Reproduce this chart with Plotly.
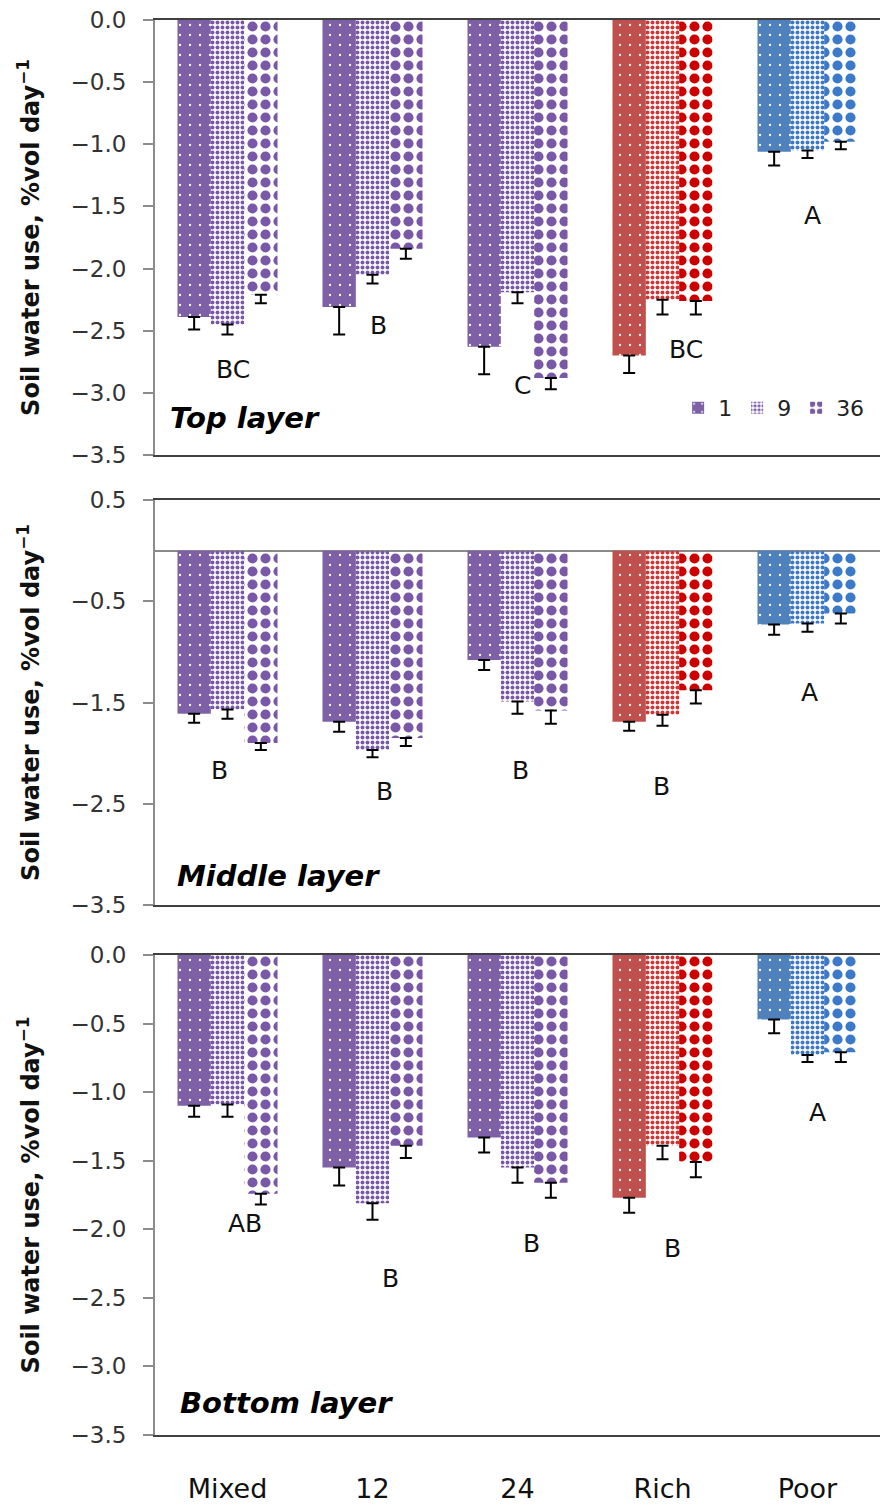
import plotly.graph_objects as go
from plotly.subplots import make_subplots

categories = ["Mixed", "12", "24", "Rich", "Poor"]
series_names = ["1", "9", "36"]

# Top layer
top_1 = [-2.39, -2.31, -2.63, -2.70, -1.06]
top_1_err = [0.10, 0.22, 0.22, 0.14, 0.11]
top_9 = [-2.45, -2.05, -2.19, -2.25, -1.05]
top_9_err = [0.08, 0.07, 0.09, 0.12, 0.06]
top_36 = [-2.21, -1.84, -2.88, -2.26, -0.98]
top_36_err = [0.07, 0.08, 0.09, 0.11, 0.06]
top_letters = ["BC", "B", "C", "BC", "A"]
top_letter_y = [-2.81, -2.46, -2.94, -2.65, -1.57]

# Middle layer
mid_1 = [-1.61, -1.69, -1.08, -1.69, -0.73]
mid_1_err = [0.09, 0.10, 0.10, 0.09, 0.10]
mid_9 = [-1.57, -1.97, -1.49, -1.62, -0.72]
mid_9_err = [0.09, 0.07, 0.12, 0.11, 0.08]
mid_36 = [-1.90, -1.85, -1.58, -1.38, -0.62]
mid_36_err = [0.07, 0.08, 0.13, 0.13, 0.10]
mid_letters = ["B", "B", "B", "B", "A"]
mid_letter_y = [-2.17, -2.38, -2.17, -2.33, -1.40]

# Bottom layer
bot_1 = [-1.10, -1.55, -1.33, -1.77, -0.47]
bot_1_err = [0.08, 0.13, 0.11, 0.11, 0.10]
bot_9 = [-1.09, -1.81, -1.55, -1.39, -0.73]
bot_9_err = [0.09, 0.12, 0.11, 0.10, 0.05]
bot_36 = [-1.74, -1.39, -1.66, -1.51, -0.71]
bot_36_err = [0.08, 0.09, 0.11, 0.11, 0.07]
bot_letters = ["AB", "B", "B", "B", "A"]
bot_letter_y = [-1.96, -2.36, -2.10, -2.14, -1.15]

layer_names = ["Top layer", "Middle layer", "Bottom layer"]

# styles
col_1 = ["#7E60A6", "#7E60A6", "#7E60A6", "#C0504D", "#4F81BD"]
col_9 = ["#7A58A8", "#7A58A8", "#7A58A8", "#D03636", "#3F79C6"]
col_36 = ["#7A58A8", "#7A58A8", "#7A58A8", "#CC0000", "#3C79C8"]

FONT = "DejaVu Sans"

fig = make_subplots(rows=3, cols=1, shared_xaxes=False, vertical_spacing=0.0)

panels = [
    (top_1, top_1_err, top_9, top_9_err, top_36, top_36_err),
    (mid_1, mid_1_err, mid_9, mid_9_err, mid_36, mid_36_err),
    (bot_1, bot_1_err, bot_9, bot_9_err, bot_36, bot_36_err),
]


def pat(kind, cols):
    if kind == 0:
        # solid colour with sparse white dots
        return dict(shape=".", bgcolor=cols, fgcolor="white", size=10, solidity=0.04,
                    fillmode="overlay", fgopacity=1)
    if kind == 1:
        # fine checker-like texture
        return dict(shape=".", fgcolor=cols, size=5, solidity=0.5,
                    fillmode="replace", fgopacity=1)
    # coarse checker-like texture
    return dict(shape=".", fgcolor=cols, size=13, solidity=0.48,
                fillmode="replace", fgopacity=1)


for r, p in enumerate(panels, start=1):
    vals = [p[0], p[2], p[4]]
    errs = [p[1], p[3], p[5]]
    cols = [col_1, col_9, col_36]
    for k in range(3):
        fig.add_trace(go.Bar(
            x=categories, y=vals[k], name=series_names[k],
            marker=dict(color=cols[k], line=dict(width=0), pattern=pat(k, cols[k])),
            error_y=dict(type="data", symmetric=False, array=[0] * 5, arrayminus=errs[k],
                         color="black", thickness=2, width=6),
            showlegend=(r == 1),
        ), row=r, col=1)

# domains (pixel based): plot area 1415 px tall, bottom margin 70
H = 1415.0
def dom(top_px, bot_px):
    return [(1435 - bot_px) / H, (1435 - top_px) / H]

ytitle = "<b>Soil water use, %vol day<sup>−1</sup></b>"
axis_common = dict(showline=True, linecolor="#8c8c8c", linewidth=2, ticks="outside",
                   ticklen=10, tickcolor="#8c8c8c", tickwidth=1.5, ticklabelstandoff=12,
                   tickfont=dict(family=FONT, size=23, color="#333"),
                   tickformat=".1f", showgrid=False, automargin=False,
                   title=dict(text=ytitle, font=dict(family=FONT, size=24, color="#111"),
                              standoff=24))

fig.update_layout(
    yaxis=dict(domain=dom(20, 455), range=[-3.5, 0], dtick=0.5, zeroline=False, **axis_common),
    yaxis2=dict(domain=dom(500, 905), range=[-3.5, 0.5], tick0=0.5, dtick=1,
                zeroline=True, zerolinecolor="#8a8a8a", zerolinewidth=2, **axis_common),
    yaxis3=dict(domain=dom(955, 1435), range=[-3.5, 0], dtick=0.5, zeroline=False, **axis_common),
)

xcommon = dict(range=[-0.5, 4.5], showline=True, linecolor="#404040", linewidth=2, mirror=True,
               ticks="", showgrid=False, automargin=False)
fig.update_xaxes(**xcommon)
fig.update_xaxes(showticklabels=False, row=1, col=1)
fig.update_xaxes(showticklabels=False, row=2, col=1)
fig.update_xaxes(showticklabels=True, tickfont=dict(family=FONT, size=27, color="#111"),
                 ticklabelstandoff=29, row=3, col=1)

# letters
letters_all = [(top_letters, top_letter_y, [5, 6, 5, 23, 5]),
               (mid_letters, mid_letter_y, [-8, 12, 3, -1, 2]),
               (bot_letters, bot_letter_y, [17, 18, 14, 10, 10])]
for r, (labs, ys, shifts) in enumerate(letters_all, start=1):
    xr = "x" if r == 1 else f"x{r}"
    yr = "y" if r == 1 else f"y{r}"
    for i, (lab, yv, sh) in enumerate(zip(labs, ys, shifts)):
        fig.add_annotation(x=i, y=yv, xref=xr, yref=yr, text=lab, showarrow=False,
                           xshift=sh, font=dict(family=FONT, size=25, color="#111"))

layer_pos = [(0.018, -3.2), (0.028, -3.21), (0.032, -3.27)]
for r, (name, (px, py)) in enumerate(zip(layer_names, layer_pos), start=1):
    xr = "x domain" if r == 1 else f"x{r} domain"
    yr = "y" if r == 1 else f"y{r}"
    fig.add_annotation(x=px, y=py, xref=xr, yref=yr, text=f"<b><i>{name}</i></b>",
                       showarrow=False, xanchor="left",
                       font=dict(family=FONT, size=29, color="#000"))

fig.update_layout(
    width=882, height=1505,
    margin=dict(l=155, r=2, t=20, b=70),
    paper_bgcolor="white", plot_bgcolor="white",
    barmode="group", bargap=0.31, bargroupgap=0,
    font=dict(family=FONT, color="#111"),
    legend=dict(orientation="h", x=0.985, xanchor="right", y=0.7258, yanchor="middle",
                font=dict(family=FONT, size=22, color="#222"), itemwidth=30,
                bgcolor="rgba(0,0,0,0)", tracegroupgap=0),
)

fig.write_html("out.html")
